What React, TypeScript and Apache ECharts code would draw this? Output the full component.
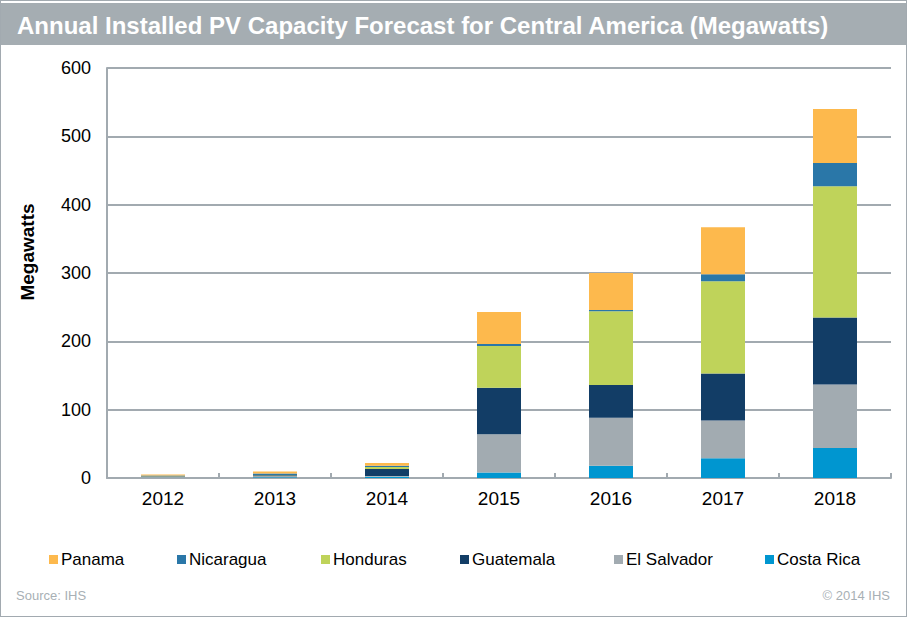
import React, { useEffect, useRef } from "react";
import * as echarts from "echarts";

const years = ["2012", "2013", "2014", "2015", "2016", "2017", "2018"];
const costaRica = [0.5, 1, 2, 8, 18, 29, 44];
const elSalvador = [1.5, 2, 1, 56, 70, 55, 93];
const guatemala = [0.5, 1, 10, 68, 48, 69, 98];
const honduras = [0.3, 0.5, 3, 61, 108, 135, 192];
const nicaragua = [1, 2, 2, 3, 2, 10, 34];
const panama = [1.5, 3, 4, 47, 54, 69, 79];
const yTicks = [0, 100, 200, 300, 400, 500, 600];

const seriesDefs = [
  { name: "Costa Rica", data: costaRica, color: "#0096D0" },
  { name: "El Salvador", data: elSalvador, color: "#A2ABB1" },
  { name: "Guatemala", data: guatemala, color: "#123D66" },
  { name: "Honduras", data: honduras, color: "#BFD35A" },
  { name: "Nicaragua", data: nicaragua, color: "#2A77A8" },
  { name: "Panama", data: panama, color: "#FDB94D" },
];
const legendOrder = ["Panama", "Nicaragua", "Honduras", "Guatemala", "El Salvador", "Costa Rica"];
const legendLefts = [44, 172, 316, 455, 609, 760];

const FONT = "Arial, 'Liberation Sans', sans-serif";

export default function App() {
  const ref = useRef<HTMLDivElement>(null);
  useEffect(() => {
    if (!ref.current) return;
    const chart = echarts.init(ref.current, undefined, { renderer: "svg" });
    const option: any = {
      animation: false,
      backgroundColor: "#ffffff",
      textStyle: { fontFamily: FONT },
      grid: { left: 107, right: 16, top: 68, bottom: 139, containLabel: false },
      legend: legendOrder.map((n, i) => ({
        data: [n],
        left: legendLefts[i],
        top: 546,
        itemWidth: 9,
        itemHeight: 9,
        itemGap: 4,
        icon: "rect",
        selectedMode: false,
        textStyle: { fontSize: 17, color: "#000", fontFamily: FONT, padding: [0, 0, 0, -2] },
      })),
      xAxis: {
        type: "category",
        data: years,
        axisLine: { show: true, lineStyle: { color: "#A2AAB0", width: 2 } },
        axisTick: { show: true, inside: true, length: 5, interval: 0, lineStyle: { color: "#A2AAB0", width: 2 } },
        axisLabel: { fontSize: 19, color: "#000", margin: 11, fontFamily: FONT },
      },
      yAxis: {
        type: "value",
        min: yTicks[0],
        max: yTicks[yTicks.length - 1],
        interval: 100,
        axisLine: { show: true, lineStyle: { color: "#A2AAB0", width: 2 } },
        axisTick: { show: false },
        splitLine: { show: true, lineStyle: { color: "#A2AAB0", width: 2 } },
        axisLabel: { fontSize: 18, color: "#000", margin: 16, fontFamily: FONT },
      },
      series: seriesDefs.map((s) => ({
        name: s.name,
        type: "bar",
        stack: "total",
        data: s.data,
        barWidth: 44,
        itemStyle: { color: s.color },
      })),
      graphic: [
        { type: "rect", shape: { x: 0, y: 0, width: 907, height: 617 }, style: { fill: "none", stroke: "#A2AAB0", lineWidth: 2 }, z: 100 },
        { type: "rect", shape: { x: 0, y: 3, width: 907, height: 42 }, style: { fill: "#A5ADB2" }, z: 50 },
        {
          type: "text",
          x: 17,
          y: 25,
          style: { text: "Annual Installed PV Capacity Forecast for Central America (Megawatts)", fill: "#fff", font: `bold 24px ${FONT}`, verticalAlign: "middle" },
          z: 60,
        },
        {
          type: "text",
          x: 27,
          y: 252,
          rotation: Math.PI / 2,
          style: { text: "Megawatts", fill: "#000", font: `bold 19px ${FONT}`, align: "center", verticalAlign: "middle" },
        },
        { type: "text", x: 16, y: 595, style: { text: "Source: IHS", fill: "#A8B0B5", font: `13px ${FONT}`, verticalAlign: "middle" } },
        { type: "text", x: 890, y: 595, style: { text: "© 2014 IHS", fill: "#A8B0B5", font: `13px ${FONT}`, align: "right", verticalAlign: "middle" } },
      ],
    };
    chart.setOption(option);
    return () => chart.dispose();
  }, []);
  return <div ref={ref} style={{ position: "fixed", left: 0, top: 0, width: 907, height: 617 }} />;
}
